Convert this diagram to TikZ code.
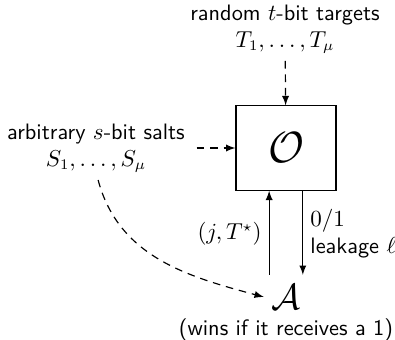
\documentclass[tikz,border=0pt]{standalone}
\usepackage{amsmath,amssymb}
\usetikzlibrary{arrows.meta,positioning}
\renewcommand{\familydefault}{\sfdefault}

\begin{document}
\begin{tikzpicture}[x=0.475pt, y=-0.475pt, >=latex, line width=0.55pt,
    every node/.style={font=\fontsize{10.6pt}{12.8pt}\selectfont},
    flow/.style={->, dash pattern=on 3.6pt off 2.8pt}]
  \useasboundingbox (0,0) rectangle (395,340);

  % Orakel
  \node[draw, minimum width=47.5pt, minimum height=40pt] (oracle) at (286,148) {\huge $\mathcal{O}$};

  % Eingaben (Ziele oben, Salze links)
  \node[align=center] (targets) at (285,29) {random $t$-bit targets\\ $T_1,\dots,T_\mu$};
  \node[align=center] (salts) at (96,148) {arbitrary $s$-bit salts\\ $S_1,\dots,S_\mu$};
  \draw[flow] (targets) -- (oracle);
  \draw[flow, shorten <=2pt] (salts) -- (oracle);

  % Angreifer
  \node (adv) at (286,297) {\LARGE $\mathcal{A}$};
  \node[below=-3pt of adv] (wins) {(wins if it receives a 1)};

  % Anfragen und Antworten
  \draw[->, shorten <=1pt] ([xshift=-8pt]adv.north) -- node[left]{$(j,T^\star)$} ([xshift=-8pt]oracle.south);
  \draw[->, shorten >=1pt] ([xshift=8pt]oracle.south) -- node[right, align=left]{$0/1$\\ leakage $\ell$} ([xshift=8pt]adv.north);
  \draw[flow] ([xshift=1pt]salts.south) to[out=-75, in=165] (adv.west);
\end{tikzpicture}
\end{document}
